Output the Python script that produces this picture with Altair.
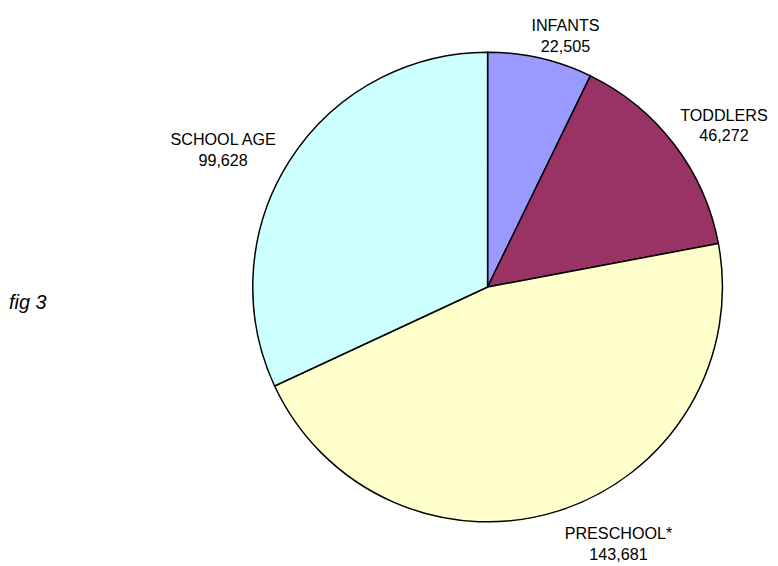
import altair as alt
import pandas as pd

categories = ["INFANTS", "TODDLERS", "PRESCHOOL*", "SCHOOL AGE"]
values = [22505, 46272, 143681, 99628]
colors = ["#9999FF", "#993366", "#FFFFCC", "#CCFFFF"]
fig_label = "fig 3"

df = pd.DataFrame({
    "cat": categories,
    "value": values,
    "idx": list(range(len(categories))),
    "label": [f"{c}\n{v:,}" for c, v in zip(categories, values)],
})

base = alt.Chart(df)

pie = base.mark_arc(stroke="black", strokeWidth=1.5).encode(
    theta=alt.Theta("value:Q", stack=True),
    color=alt.Color("cat:N", sort=categories,
                    scale=alt.Scale(domain=categories, range=colors), legend=None),
    order=alt.Order("idx:Q"),
)

# label placement per slice: (radius, dx, dy)
placement = {
    "INFANTS": (270, 18, 0),
    "TODDLERS": (290, 8, 3),
    "PRESCHOOL*": (285, 45, -22),
    "SCHOOL AGE": (300, -14, 13),
}

layers = [pie]
for cat in categories:
    r, dx, dy = placement[cat]
    layers.append(
        base.mark_text(lineBreak="\n", font="Liberation Sans", fontSize=16.3,
                       color="black", align="center", baseline="middle",
                       lineHeight=21, radius=r, dx=dx, dy=dy).encode(
            theta=alt.Theta("value:Q", stack=True),
            order=alt.Order("idx:Q"),
            text=alt.condition(alt.datum.cat == cat, "label:N", alt.value("")),
        )
    )

fig = alt.Chart(pd.DataFrame({"t": [fig_label]})).mark_text(
    font="Liberation Sans", fontSize=20, fontStyle="italic", color="black",
    align="left", baseline="middle",
).encode(text="t:N", x=alt.value(-246), y=alt.value(253))
layers.append(fig)

chart = alt.layer(*layers).properties(
    width=474, height=474,
    padding={"left": 247, "top": 42, "right": 48, "bottom": 42},
    autosize="none",
).configure_view(stroke=None)

chart.save("out.html", embed_options={"renderer": "svg", "actions": False})
